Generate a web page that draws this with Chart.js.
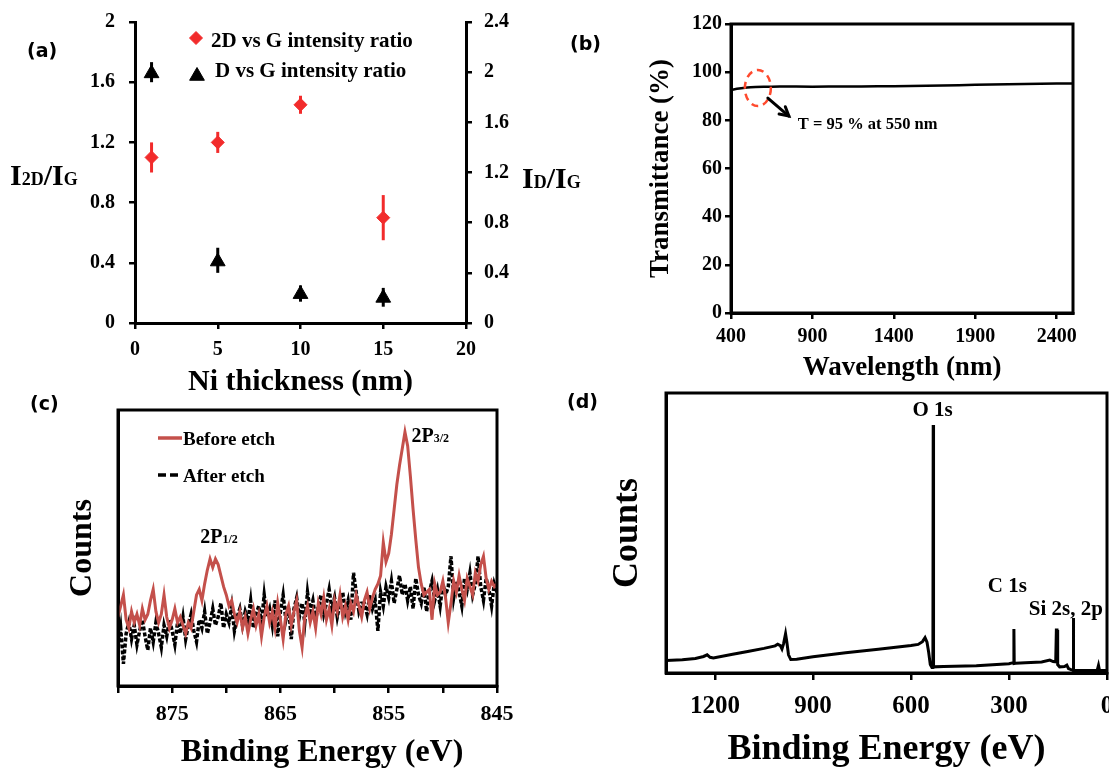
<!DOCTYPE html>
<html>
<head>
<meta charset="utf-8">
<title>Graphene on Ni: Raman ratios, transmittance and XPS</title>
<script src="https://cdn.jsdelivr.net/npm/chart.js@4.4.1/dist/chart.umd.min.js"></script>
<style>
  html, body { margin: 0; padding: 0; background: #ffffff; }
  body { position: relative; width: 1109px; height: 768px; overflow: hidden; }
  canvas { position: absolute; }
</style>
</head>
<body>
<canvas id="panelA" width="600" height="400" style="left:0px;top:0px"></canvas>
<canvas id="panelB" width="549" height="400" style="left:560px;top:0px"></canvas>
<canvas id="panelC" width="560" height="383" style="left:0px;top:385px"></canvas>
<canvas id="panelD" width="549" height="383" style="left:560px;top:385px"></canvas>
<script>
// ---------------- Panel (a): Raman intensity ratios ----------------
const NI_THICKNESS_NM = [1, 5, 10, 15];
const RATIO_2D_G      = [1.10, 1.20, 1.45, 0.70];
const RATIO_2D_G_LOW  = [1.00, 1.13, 1.39, 0.55];
const RATIO_2D_G_HIGH = [1.20, 1.27, 1.51, 0.85];
const RATIO_D_G       = [1.99, 0.49, 0.23, 0.20];
const RATIO_D_G_LOW   = [1.92, 0.40, 0.17, 0.13];
const RATIO_D_G_HIGH  = [2.08, 0.60, 0.30, 0.28];
const NI_TICKS  = [0, 5, 10, 15, 20];
const I2D_TICKS = [0, 0.4, 0.8, 1.2, 1.6, 2];
const ID_TICKS  = [0, 0.4, 0.8, 1.2, 1.6, 2, 2.4];

// ---------------- Panel (b): transmittance ----------------
const WAVELENGTH_NM = [400, 450, 500, 550, 600, 700, 800, 1000, 1200, 1400, 1600, 1800, 2000, 2200, 2400, 2500];
const TRANSMITTANCE = [92.6, 93.2, 93.6, 93.8, 93.9, 94.0, 94.0, 94.0, 94.1, 94.2, 94.4, 94.6, 94.9, 95.1, 95.3, 95.3];
const WL_TICKS = [400, 900, 1400, 1900, 2400];
const T_TICKS  = [0, 20, 40, 60, 80, 100, 120];

// ---------------- Panel (c): Ni 2p XPS (sampled every 0.25 eV from 880 eV) ----------------
const NI2P_START_EV = 880;
const NI2P_STEP_EV  = 0.25;
const BEFORE_ETCH = [
  25, 29, 33, 24, 21, 27, 23, 26, 22, 28,
  24, 26, 31, 35, 27, 23, 26, 33, 25, 21,
  24, 28, 23, 25, 22, 19, 23, 21, 27, 33,
  35, 31, 37, 42, 46, 43, 46, 44, 40, 36,
  33, 29, 31, 26, 23, 27, 21, 25, 19, 24,
  28, 22, 26, 18, 25, 29, 23, 27, 21, 30,
  24, 17, 26, 29, 22, 27, 31, 20, 14, 25,
  29, 23, 27, 21, 30, 26, 32, 24, 28, 22,
  31, 27, 33, 25, 29, 24, 30, 27, 33, 29,
  25, 31, 34, 28, 32, 35, 37, 40, 52, 45,
  48, 55, 64, 73, 80, 86, 92, 87, 76, 64,
  53, 43, 37, 33, 34, 35, 24, 37, 33, 34,
  38, 32, 23, 30, 38, 34, 40, 35, 31, 39,
  36, 33, 41, 38, 44, 47, 39, 35, 38, 36,
  37
];
const AFTER_ETCH = [
  14, 21,  8, 19, 23, 17, 22, 15, 20, 24,
  18, 13, 21, 16, 23, 19, 14, 22, 18, 24,
  20, 15, 23, 19, 25, 17, 22, 26, 20, 16,
  24, 21, 27, 19, 23, 28, 22, 25, 30, 21,
  26, 23, 29, 20, 25, 28, 22, 27, 24, 31,
  21, 26, 29, 23, 33, 25, 28, 22, 31, 18,
  27, 33, 24, 29, 17, 28, 32, 25, 30, 23,
  34, 27, 31, 24, 29, 33, 26, 30, 35, 28,
  32, 25, 30, 34, 27, 31, 24, 41, 34, 27,
  30, 30, 26, 33, 28, 31, 20, 34, 29, 36,
  32, 38, 30, 35, 40, 33, 37, 31, 36, 28,
  39, 33, 30, 36, 27, 34, 38, 31, 35, 29,
  37, 33, 36, 47, 32, 38, 34, 29, 39, 35,
  41, 33, 37, 47, 36, 31, 39, 35, 29, 37,
  34
];
const NI2P_TICKS  = [880, 875, 870, 865, 860, 855, 850, 845];
const NI2P_LABELS = [875, 865, 855, 845];

// ---------------- Panel (d): XPS survey ----------------
const SURVEY_EV = [1350, 1300, 1260, 1235, 1224, 1215, 1205, 1150, 1100, 1050,
  1016, 1008, 1000, 995, 990, 984, 980, 975, 968, 950,
  900, 800, 700, 600, 578, 565, 557, 551, 546, 541,
  536, 533, 532, 531, 500, 400, 300, 290, 286, 285,
  284, 280, 250, 200, 175, 165, 157, 155, 153, 151,
  145, 130, 123, 118, 110, 104, 103, 102, 95, 60,
  30, 26, 23, 0];
const SURVEY_COUNTS = [4.5, 4.7, 5.2, 5.9, 6.5, 5.6, 5.4, 6.6, 7.7, 8.8,
  9.7, 10.3, 9.8, 8.6, 10.5, 14.0, 11.0, 6.5, 4.8, 4.9,
  5.8, 7.2, 8.5, 9.8, 10.2, 11.2, 12.6, 11.0, 7.5, 3.0,
  2.0, 2.0, 88.6, 2.2, 2.3, 2.6, 3.3, 3.6, 3.6, 15.7,
  3.4, 3.5, 3.7, 3.9, 4.6, 4.1, 4.0, 15.4, 15.4, 3.0,
  2.2, 2.3, 2.8, 1.6, 1.2, 1.0, 19.6, 0.9, 0.9, 0.9,
  0.9, 2.7, 1.0, 0.9];
const SURVEY_TICKS = [1200, 900, 600, 300, 0];

// ---------------- styling helpers ----------------
const SERIF = "'Liberation Serif', 'Times New Roman', serif";
const SANS = "'DejaVu Sans', sans-serif";
const RED_A = '#f22b2b';
const RED_C = '#c4504b';
const CIRCLE_RED = '#ff4a2e';

function fixBox(w, h) {
  return function (scale) {
    if (w != null) scale.width = w;
    if (h != null) scale.height = h;
    scale.paddingLeft = 0; scale.paddingRight = 0;
    scale.paddingTop = 0; scale.paddingBottom = 0;
  };
}
function setTicks(values) {
  return function (scale) { scale.ticks = values.map(v => ({ value: v })); };
}
function gridOpts(len) {
  return { display: true, drawOnChartArea: false, drawTicks: true, tickLength: len,
           tickWidth: 2.5, tickColor: '#000', color: '#000', lineWidth: 2.5 };
}
const BORDER = { display: true, color: '#000', width: 3 };
function tickOpts(size, padding, cb) {
  return { font: { family: SERIF, size: size, weight: 'bold' }, color: '#000', padding: padding,
           autoSkip: false, maxRotation: 0, callback: cb || (v => String(v)) };
}
function titleOpts(text, size, padding) {
  return { display: true, text: text, color: '#000',
           font: { family: SERIF, size: size, weight: 'bold', lineHeight: 1 }, padding: padding };
}
function label(ctx, s, x, y, size, o) {
  o = o || {};
  ctx.save();
  ctx.font = 'bold ' + size + 'px ' + (o.family || SERIF);
  ctx.fillStyle = o.color || '#000';
  ctx.textAlign = o.align || 'left';
  ctx.textBaseline = o.baseline || 'middle';
  ctx.fillText(s, x, y);
  ctx.restore();
}
function rich(ctx, segs, x, baseline, align) {
  ctx.save();
  let w = 0;
  segs.forEach(([t, s]) => { ctx.font = 'bold ' + s + 'px ' + SERIF; w += ctx.measureText(t).width; });
  let cx = align === 'center' ? x - w / 2 : (align === 'right' ? x - w : x);
  ctx.fillStyle = '#000'; ctx.textAlign = 'left'; ctx.textBaseline = 'alphabetic';
  segs.forEach(([t, s]) => {
    ctx.font = 'bold ' + s + 'px ' + SERIF;
    ctx.fillText(t, cx, baseline);
    cx += ctx.measureText(t).width;
  });
  ctx.restore();
}
function marker(ctx, style, r, color, x, y) {
  ctx.save();
  ctx.fillStyle = color; ctx.strokeStyle = color; ctx.lineWidth = 1;
  Chart.helpers.drawPoint(ctx, { pointStyle: style, radius: r, rotation: 0, borderWidth: 1 }, x, y);
  ctx.restore();
}
const framePlugin = {
  id: 'frameBox',
  afterDatasetsDraw(chart) {
    const { ctx, chartArea: a } = chart;
    ctx.save(); ctx.strokeStyle = '#000'; ctx.lineWidth = 3;
    ctx.strokeRect(a.left, a.top, a.right - a.left, a.bottom - a.top);
    ctx.restore();
  }
};
const errorBarPlugin = {
  id: 'errorBars',
  beforeDatasetsDraw(chart) {
    const ctx = chart.ctx;
    chart.data.datasets.forEach((ds, di) => {
      if (!ds.errLow) return;
      const meta = chart.getDatasetMeta(di);
      const xs = chart.scales[meta.xAxisID], ys = chart.scales[meta.yAxisID];
      ctx.save(); ctx.strokeStyle = ds.errColor; ctx.lineWidth = ds.errWidth;
      ds.data.forEach((p, i) => {
        const px = xs.getPixelForValue(p.x);
        ctx.beginPath();
        ctx.moveTo(px, ys.getPixelForValue(ds.errLow[i]));
        ctx.lineTo(px, ys.getPixelForValue(ds.errHigh[i]));
        ctx.stroke();
      });
      ctx.restore();
    });
  }
};
const BASE = { responsive: false, animation: false, events: [] };
const NO_PLUGINS = { legend: { display: false }, tooltip: { enabled: false } };

// ---------------- Chart (a) ----------------
const decorA = {
  id: 'decorA',
  afterDraw(chart) {
    const ctx = chart.ctx, a = chart.chartArea;
    label(ctx, '(a)', 27, 52, 19, { family: SANS });
    rich(ctx, [['I', 30], ['2D', 18], ['/', 30], ['I', 30], ['G', 18]], 10, 185, 'left');
    rich(ctx, [['I', 30], ['D', 18], ['/', 30], ['I', 30], ['G', 18]], 522, 188, 'left');
    marker(ctx, 'rectRot', 6.5, RED_A, a.left + 61, a.top + 16);
    label(ctx, chart.data.datasets[0].label, a.left + 76, a.top + 25, 21, { baseline: 'alphabetic' });
    marker(ctx, 'triangle', 8.5, '#000', a.left + 62, a.top + 54);
    label(ctx, chart.data.datasets[1].label, a.left + 80, a.top + 55, 21, { baseline: 'alphabetic' });
  }
};
new Chart(document.getElementById('panelA'), {
  type: 'scatter',
  data: {
    datasets: [
      { label: '2D vs G intensity ratio', yAxisID: 'y',
        data: NI_THICKNESS_NM.map((x, i) => ({ x: x, y: RATIO_2D_G[i] })),
        pointStyle: 'rectRot', pointRadius: 6.5, backgroundColor: RED_A, borderColor: RED_A, borderWidth: 1,
        errLow: RATIO_2D_G_LOW, errHigh: RATIO_2D_G_HIGH, errColor: RED_A, errWidth: 3 },
      { label: 'D vs G intensity ratio', yAxisID: 'y2',
        data: NI_THICKNESS_NM.map((x, i) => ({ x: x, y: RATIO_D_G[i] })),
        pointStyle: 'triangle', pointRadius: 8.5, backgroundColor: '#000', borderColor: '#000', borderWidth: 1,
        errLow: RATIO_D_G_LOW, errHigh: RATIO_D_G_HIGH, errColor: '#000', errWidth: 3 }
    ]
  },
  options: Object.assign({}, BASE, {
    layout: { padding: { top: 22, left: 0, right: 0, bottom: 0 } },
    plugins: NO_PLUGINS,
    scales: {
      x: { type: 'linear', position: 'bottom', min: 0, max: 20,
           afterBuildTicks: setTicks(NI_TICKS), afterFit: fixBox(null, 77),
           grid: gridOpts(6), border: BORDER, ticks: tickOpts(20, 9),
           title: titleOpts('Ni thickness (nm)', 30, { top: 0, bottom: 3 }) },
      y: { type: 'linear', position: 'left', min: 0, max: 2,
           afterBuildTicks: setTicks(I2D_TICKS), afterFit: fixBox(135, null),
           grid: gridOpts(6), border: BORDER, ticks: tickOpts(20, 14) },
      y2: { type: 'linear', position: 'right', min: 0, max: 2.4,
            afterBuildTicks: setTicks(ID_TICKS), afterFit: fixBox(134, null),
            grid: gridOpts(6), border: BORDER, ticks: tickOpts(20, 12) }
    }
  }),
  plugins: [errorBarPlugin, decorA]
});

// ---------------- Chart (b) ----------------
const MARK_WL = 565, MARK_T = 93.4;
const decorB = {
  id: 'decorB',
  afterDraw(chart) {
    const ctx = chart.ctx, xs = chart.scales.x, ys = chart.scales.y;
    label(ctx, '(b)', 10, 45, 19, { family: SANS });
    const cx = xs.getPixelForValue(MARK_WL), cy = ys.getPixelForValue(MARK_T);
    ctx.save();
    ctx.strokeStyle = CIRCLE_RED; ctx.lineWidth = 2.5; ctx.setLineDash([7, 5]);
    ctx.beginPath(); ctx.ellipse(cx, cy, 13, 18, 0, 0, Math.PI * 2); ctx.stroke();
    ctx.setLineDash([]);
    ctx.strokeStyle = '#000'; ctx.lineWidth = 3; ctx.lineCap = 'round';
    const x0 = cx + 10, y0 = cy + 10, x1 = cx + 31, y1 = cy + 28;
    ctx.beginPath(); ctx.moveTo(x0, y0); ctx.lineTo(x1, y1); ctx.stroke();
    const ang = Math.atan2(y1 - y0, x1 - x0), hl = 10;
    ctx.beginPath();
    ctx.moveTo(x1 - hl * Math.cos(ang - 0.5), y1 - hl * Math.sin(ang - 0.5));
    ctx.lineTo(x1, y1);
    ctx.lineTo(x1 - hl * Math.cos(ang + 0.5), y1 - hl * Math.sin(ang + 0.5));
    ctx.stroke();
    ctx.restore();
    label(ctx, 'T = 95 % at 550 nm', cx + 40, cy + 37, 16.5);
  }
};
new Chart(document.getElementById('panelB'), {
  type: 'line',
  data: {
    datasets: [{ label: 'Transmittance', data: WAVELENGTH_NM.map((x, i) => ({ x: x, y: TRANSMITTANCE[i] })),
                 borderColor: '#000', borderWidth: 2.5, pointRadius: 0, tension: 0.3, fill: false }]
  },
  options: Object.assign({}, BASE, {
    layout: { padding: { top: 24, left: 0, right: 36, bottom: 0 } },
    plugins: NO_PLUGINS,
    scales: {
      x: { type: 'linear', min: 400, max: 2500,
           afterBuildTicks: setTicks(WL_TICKS), afterFit: fixBox(null, 87),
           grid: gridOpts(6), border: BORDER, ticks: tickOpts(20, 6),
           title: titleOpts('Wavelength (nm)', 27, { top: 0, bottom: 18 }) },
      y: { type: 'linear', min: 0, max: 120,
           afterBuildTicks: setTicks(T_TICKS), afterFit: fixBox(171, null),
           grid: gridOpts(6), border: BORDER, ticks: tickOpts(20, 3),
           title: titleOpts('Transmittance (%)', 27, { top: 88, bottom: 0 }) }
    }
  }),
  plugins: [framePlugin, decorB]
});

// ---------------- Chart (c) ----------------
const LABEL_2P32 = { ev: 852.9, counts: 88.5 };
const LABEL_2P12 = { ev: 872.4, counts: 51.7 };
const decorC = {
  id: 'decorC',
  afterDraw(chart) {
    const ctx = chart.ctx, a = chart.chartArea, xs = chart.scales.x, ys = chart.scales.y;
    label(ctx, '(c)', 30, 20, 19, { family: SANS });
    ctx.save();
    ctx.lineWidth = 3.5; ctx.strokeStyle = RED_C;
    ctx.beginPath(); ctx.moveTo(a.left + 40, a.top + 28); ctx.lineTo(a.left + 64, a.top + 28); ctx.stroke();
    ctx.strokeStyle = '#000'; ctx.setLineDash([8, 4]);
    ctx.beginPath(); ctx.moveTo(a.left + 40, a.top + 65); ctx.lineTo(a.left + 64, a.top + 65); ctx.stroke();
    ctx.restore();
    label(ctx, chart.data.datasets[0].label, a.left + 65, a.top + 35, 19, { baseline: 'alphabetic' });
    label(ctx, chart.data.datasets[1].label, a.left + 65, a.top + 72, 19, { baseline: 'alphabetic' });
    rich(ctx, [['2P', 20], ['3/2', 12]], xs.getPixelForValue(LABEL_2P32.ev), ys.getPixelForValue(LABEL_2P32.counts), 'left');
    rich(ctx, [['2P', 20], ['1/2', 12]], xs.getPixelForValue(LABEL_2P12.ev), ys.getPixelForValue(LABEL_2P12.counts), 'left');
    label(ctx, 'Binding Energy (eV)', 322, 368, 32, { align: 'center' });
  }
};
new Chart(document.getElementById('panelC'), {
  type: 'line',
  data: {
    datasets: [
      { label: 'Before etch', data: BEFORE_ETCH.map((y, i) => ({ x: NI2P_START_EV - i * NI2P_STEP_EV, y: y })),
        borderColor: RED_C, borderWidth: 3, pointRadius: 0, tension: 0, fill: false },
      { label: 'After etch', data: AFTER_ETCH.map((y, i) => ({ x: NI2P_START_EV - i * NI2P_STEP_EV, y: y })),
        borderColor: '#000', borderWidth: 3.5, borderDash: [4, 2], pointRadius: 0, tension: 0, fill: false }
    ]
  },
  options: Object.assign({}, BASE, {
    layout: { padding: { top: 25, left: 0, right: 63, bottom: 0 } },
    plugins: NO_PLUGINS,
    scales: {
      x: { type: 'linear', reverse: true, min: 845, max: 880,
           afterBuildTicks: setTicks(NI2P_TICKS), afterFit: fixBox(null, 82),
           grid: gridOpts(7), border: BORDER,
           ticks: tickOpts(22, 8, v => (NI2P_LABELS.includes(v) ? String(v) : '')) },
      y: { type: 'linear', min: 0, max: 100, afterFit: fixBox(118, null),
           grid: { display: false }, border: BORDER, ticks: { display: false },
           title: titleOpts('Counts', 32, { top: 67, bottom: 0 }) }
    }
  }),
  plugins: [framePlugin, decorC]
});

// ---------------- Chart (d) ----------------
const PEAK_LABELS = [
  { text: 'O 1s', ev: 534, counts: 91.8 },
  { text: 'C 1s', ev: 305, counts: 28.9 },
  { text: 'Si 2s, 2p', ev: 126, counts: 20.7 }
];
const decorD = {
  id: 'decorD',
  afterDraw(chart) {
    const ctx = chart.ctx, xs = chart.scales.x, ys = chart.scales.y;
    label(ctx, '(d)', 7, 18, 19, { family: SANS });
    PEAK_LABELS.forEach(p => label(ctx, p.text, xs.getPixelForValue(p.ev), ys.getPixelForValue(p.counts), 21,
                                   { align: 'center', baseline: 'alphabetic' }));
  }
};
new Chart(document.getElementById('panelD'), {
  type: 'line',
  data: {
    datasets: [{ label: 'Survey', data: SURVEY_EV.map((x, i) => ({ x: x, y: SURVEY_COUNTS[i] })),
                 borderColor: '#000', borderWidth: 3, pointRadius: 0, tension: 0, fill: false }]
  },
  options: Object.assign({}, BASE, {
    layout: { padding: { top: 8, left: 0, right: 2, bottom: 0 } },
    plugins: NO_PLUGINS,
    scales: {
      x: { type: 'linear', reverse: true, min: 0, max: 1350,
           afterBuildTicks: setTicks(SURVEY_TICKS), afterFit: fixBox(null, 95),
           grid: gridOpts(7), border: BORDER, ticks: tickOpts(25, 12),
           title: titleOpts('Binding Energy (eV)', 36, { top: 0, bottom: 0 }) },
      y: { type: 'linear', min: 0, max: 100, afterFit: fixBox(106, null),
           grid: { display: false }, border: BORDER, ticks: { display: false },
           title: titleOpts('Counts', 36, { top: 50, bottom: 0 }) }
    }
  }),
  plugins: [framePlugin, decorD]
});
</script>
</body>
</html>
